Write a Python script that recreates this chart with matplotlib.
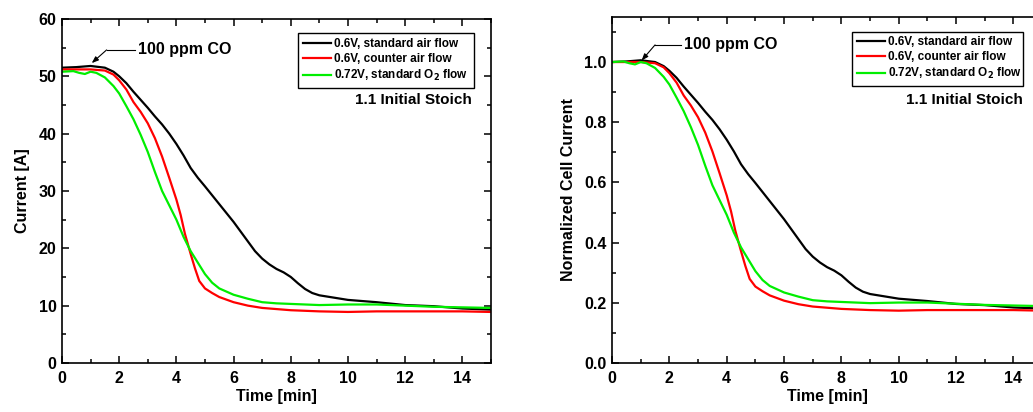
import matplotlib
matplotlib.use("Agg")
import matplotlib.pyplot as plt
import numpy as np
from matplotlib.ticker import MultipleLocator

plt.rcParams['font.family'] = ['Liberation Sans', 'DejaVu Sans']
plt.rcParams['font.weight'] = 'bold'

# Cell current after 100 ppm CO injection [A]
t_std_air = [0, 0.5, 1.0, 1.5, 1.8, 2.0, 2.25, 2.5, 2.75, 3.0, 3.25, 3.5, 3.75, 4.0,
             4.25, 4.5, 4.75, 5.0, 5.5, 6.0, 6.5, 6.75, 7.0, 7.25, 7.5, 7.75, 8.0,
             8.25, 8.5, 8.75, 9.0, 9.5, 10, 11, 12, 13, 14, 15]
i_std_air = [51.5, 51.6, 51.8, 51.5, 50.8, 50.0, 48.8, 47.3, 45.9, 44.5, 43.0, 41.6,
             40.0, 38.2, 36.2, 34.0, 32.3, 30.8, 27.7, 24.6, 21.2, 19.5, 18.2, 17.2,
             16.4, 15.8, 15.0, 13.9, 12.9, 12.2, 11.8, 11.4, 11.0, 10.6, 10.1, 9.9,
             9.5, 9.3]

t_counter_air = [0, 0.5, 1.0, 1.5, 1.8, 2.0, 2.25, 2.5, 2.75, 3.0, 3.25, 3.5, 3.75,
                 4.0, 4.15, 4.3, 4.5, 4.65, 4.8, 5.0, 5.25, 5.5, 6.0, 6.5, 7.0, 7.5,
                 8, 9, 10, 11, 12, 13, 14, 15]
i_counter_air = [51.2, 51.2, 51.2, 51.0, 50.3, 49.3, 47.7, 45.5, 43.8, 41.8, 39.2,
                 36.0, 32.3, 28.5, 25.8, 22.5, 19.0, 16.5, 14.3, 13.0, 12.2, 11.5,
                 10.6, 10.0, 9.6, 9.4, 9.2, 9.0, 8.9, 9.0, 9.0, 9.0, 9.0, 8.9]

t_std_o2 = [0, 0.4, 0.6, 0.8, 1.0, 1.2, 1.5, 1.8, 2.0, 2.25, 2.5, 2.75, 3.0, 3.25,
            3.5, 3.75, 4.0, 4.25, 4.5, 4.75, 5.0, 5.25, 5.5, 6.0, 6.5, 7.0, 7.5, 8,
            9, 10, 11, 12, 13, 14, 15]
i_std_o2 = [50.8, 50.9, 50.6, 50.4, 50.8, 50.6, 49.8, 48.3, 47.0, 44.8, 42.5, 39.8,
            36.8, 33.3, 30.0, 27.5, 25.0, 22.0, 19.5, 17.5, 15.5, 14.0, 13.0, 11.9,
            11.2, 10.6, 10.4, 10.3, 10.1, 10.2, 10.2, 10.0, 9.8, 9.7, 9.6]

labels = ["0.6V, standard air flow",
          "0.6V, counter air flow",
          "0.72V, standard O$_2$ flow"]
colors = ["#000000", "#ff0000", "#00ee00"]

series = [(t_std_air, i_std_air), (t_counter_air, i_counter_air), (t_std_o2, i_std_o2)]

fig = plt.figure(figsize=(10.33, 4.12), dpi=100)
ax1 = fig.add_axes([0.060, 0.119, 0.4153, 0.835])
ax2 = fig.add_axes([0.5925, 0.119, 0.4163, 0.840])


def style_axes(ax):
    ax.set_xlim(0, 15)
    ax.xaxis.set_major_locator(MultipleLocator(2))
    ax.xaxis.set_minor_locator(MultipleLocator(1))
    ax.tick_params(which='both', direction='in', top=True, right=True,
                   labelsize=11.5, width=1.1)
    ax.tick_params(which='major', length=5)
    ax.tick_params(which='minor', length=3)
    ax.tick_params(axis='x', pad=6)
    ax.tick_params(axis='y', pad=4)
    for sp in ax.spines.values():
        sp.set_linewidth(1.2)
    for lab in ax.get_xticklabels() + ax.get_yticklabels():
        lab.set_fontweight('bold')
    ax.set_xlabel("Time [min]", fontsize=11.5, fontweight='bold', labelpad=2)


# Left: absolute current
for (t, i), c, lab in zip(series, colors, labels):
    ax1.plot(t, i, color=c, lw=1.6, label=lab)
ax1.set_ylim(0, 60)
ax1.yaxis.set_major_locator(MultipleLocator(10))
ax1.yaxis.set_minor_locator(MultipleLocator(5))
style_axes(ax1)
ax1.set_ylabel("Current [A]", fontsize=11.5, fontweight='bold', labelpad=6)

# Right: current normalized to its starting value
for (t, i), c, lab in zip(series, colors, labels):
    i = np.asarray(i)
    ax2.plot(t, i / i[0], color=c, lw=1.6, label=lab)
ax2.set_ylim(0, 1.15)
ax2.yaxis.set_major_locator(MultipleLocator(0.2))
ax2.yaxis.set_minor_locator(MultipleLocator(0.1))
ax2.yaxis.set_major_formatter(matplotlib.ticker.FormatStrFormatter('%.1f'))
style_axes(ax2)
ax2.set_ylabel("Normalized Cell Current", fontsize=11.5, fontweight='bold', labelpad=6)


def co_marker(ax, xt, yt, xk, xy):
    ax.text(xt, yt, "100 ppm CO", fontsize=11.5, fontweight='bold',
            va='center', ha='left')
    ax.plot([xk, xt - 0.1], [yt, yt], color='black', lw=0.8)
    ax.annotate("", xy=xy, xytext=(xk, yt),
                arrowprops=dict(arrowstyle='-|>,head_length=0.4,head_width=0.15',
                                color='black', lw=0.8, shrinkA=0, shrinkB=0))


co_marker(ax1, 2.67, 54.6, 1.56, (1.04, 52.3))
co_marker(ax2, 2.5, 1.057, 1.5, (1.03, 1.005))

for ax, x0, x1, y0, y1, sx, sy in [(ax1, 0.55, 0.96, 0.805, 0.959, 0.956, 0.765),
                                   (ax2, 0.558, 0.956, 0.806, 0.957, 0.956, 0.76)]:
    leg = ax.legend(loc='upper left', bbox_to_anchor=(x0, y0, x1 - x0, y1 - y0),
                    mode='expand', borderaxespad=0, fancybox=False,
                    edgecolor='black', framealpha=1,
                    prop={'size': 8.5, 'weight': 'bold'},
                    handlelength=2.4, handletextpad=0.25, labelspacing=0.25,
                    borderpad=0.4)
    leg.get_frame().set_linewidth(1.0)
    ax.text(sx, sy, "1.1 Initial Stoich", transform=ax.transAxes,
            fontsize=11, fontweight='bold', ha='right', va='center')

fig.savefig("out.png", dpi=100)
